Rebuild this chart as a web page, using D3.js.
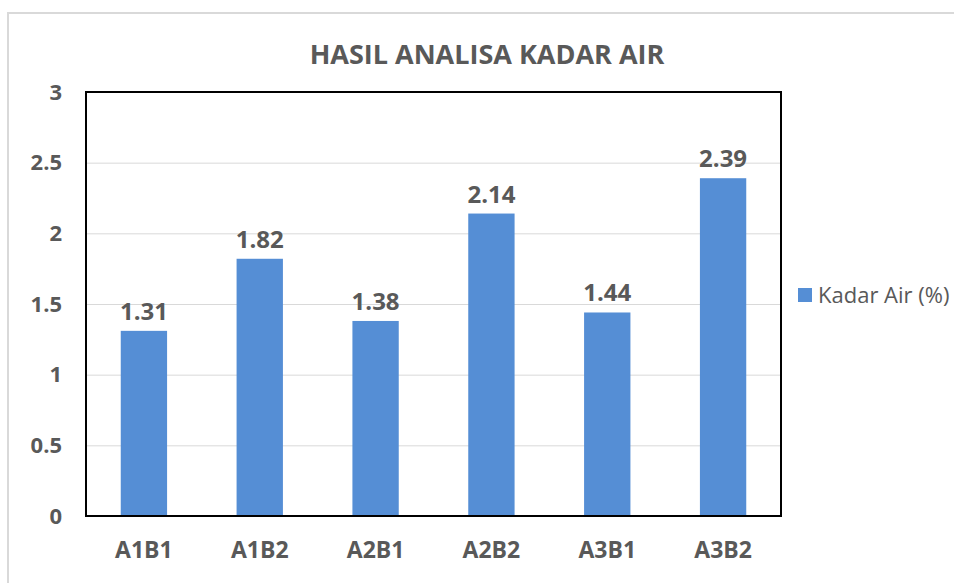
<!DOCTYPE html>
<html>
<head>
<meta charset="utf-8">
<script src="https://cdn.jsdelivr.net/npm/d3@7"></script>
<style>
  html, body { margin: 0; padding: 0; background: #fff; overflow: hidden; }
  svg text { font-family: "Open Sans", "Noto Sans", sans-serif; fill: #595959; }
</style>
</head>
<body>
<div id="chart"></div>
<script>
const categories = ['A1B1', 'A1B2', 'A2B1', 'A2B2', 'A3B1', 'A3B2'];
const kadarAir = [1.31, 1.82, 1.38, 2.14, 1.44, 2.39];
const yTicks = [0, 0.5, 1, 1.5, 2, 2.5, 3];
const seriesName = 'Kadar Air (%)';
const title = 'HASIL ANALISA KADAR AIR';

const W = 954, H = 583;
const margin = { top: 92, right: 173, bottom: 67, left: 86 };
const width = W - margin.left - margin.right;
const height = H - margin.top - margin.bottom;

const root = d3.select('#chart').append('svg')
    .attr('width', W)
    .attr('height', H)
    .style('display', 'block');

// outer chart border (only top and left visible)
root.append('rect')
    .attr('x', 8).attr('y', 13)
    .attr('width', W + 20).attr('height', H + 20)
    .attr('fill', 'none')
    .attr('stroke', '#d9d9d9')
    .attr('stroke-width', 2);

root.append('text')
    .attr('x', 487).attr('y', 64)
    .attr('text-anchor', 'middle')
    .style('font-size', '27px')
    .style('font-weight', 'bold')
    .text(title);

const svg = root.append('g')
    .attr('transform', `translate(${margin.left},${margin.top})`);

const x = d3.scaleBand()
    .domain(categories)
    .range([0, width])
    .paddingInner(0.6)
    .paddingOuter(0.3);

const y = d3.scaleLinear()
    .domain([0, 3])
    .range([height, 0]);

// gridlines
svg.append('g')
    .call(d3.axisLeft(y).tickValues(yTicks).tickSize(-width).tickFormat(''))
    .call(g => g.select('.domain').remove())
    .call(g => g.selectAll('line').attr('stroke', '#d9d9d9').attr('stroke-width', 1));

svg.selectAll('rect.bar')
    .data(kadarAir)
    .enter().append('rect')
    .attr('class', 'bar')
    .attr('x', (d, i) => x(categories[i]))
    .attr('y', d => y(d))
    .attr('width', x.bandwidth())
    .attr('height', d => height - y(d))
    .attr('fill', '#558ed5');

svg.selectAll('text.val')
    .data(kadarAir)
    .enter().append('text')
    .attr('class', 'val')
    .attr('x', (d, i) => x(categories[i]) + x.bandwidth() / 2)
    .attr('y', d => y(d) - 11)
    .attr('text-anchor', 'middle')
    .style('font-size', '24px')
    .style('font-weight', 'bold')
    .text(d => d.toFixed(2));

// y axis labels
svg.append('g')
    .call(d3.axisLeft(y).tickValues(yTicks).tickSize(0).tickPadding(24).tickFormat(d => d))
    .call(g => g.select('.domain').remove())
    .call(g => g.selectAll('text')
        .style('font-size', '22px').style('font-weight', 'bold')
        .style('font-family', '"Open Sans", sans-serif').attr('fill', '#595959'));

// x axis labels
svg.append('g')
    .attr('transform', `translate(0,${height})`)
    .call(d3.axisBottom(x).tickSize(0).tickPadding(26))
    .call(g => g.select('.domain').remove())
    .call(g => g.selectAll('text')
        .style('font-size', '23px').style('font-weight', 'bold')
        .style('font-family', '"Open Sans", sans-serif').attr('fill', '#595959'));

// plot border
svg.append('rect')
    .attr('width', width).attr('height', height)
    .attr('fill', 'none')
    .attr('stroke', '#000')
    .attr('stroke-width', 2);

// legend
const legend = root.append('g')
    .attr('transform', `translate(798,288)`);
legend.append('rect')
    .attr('width', 14).attr('height', 14)
    .attr('fill', '#558ed5');
legend.append('text')
    .attr('x', 20).attr('y', 7)
    .attr('dy', '0.35em')
    .style('font-size', '22px')
    .text(seriesName);
</script>
</body>
</html>
